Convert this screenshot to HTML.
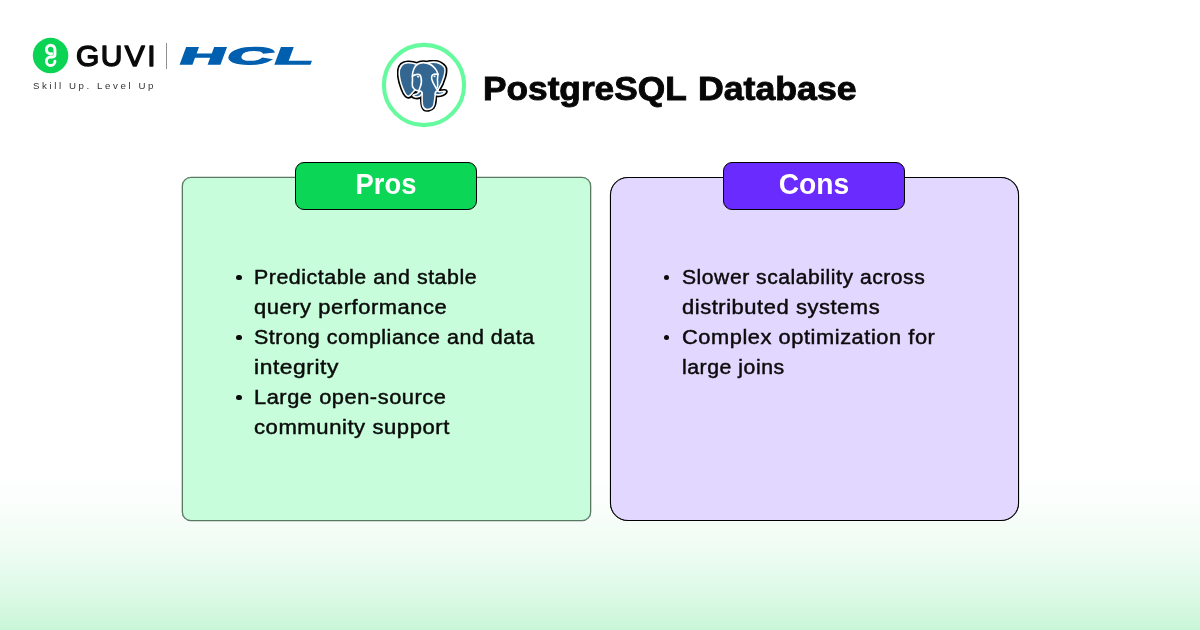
<!DOCTYPE html>
<html lang="en">
<head>
<meta charset="utf-8">
<title>PostgreSQL Database</title>
<style>
*{box-sizing:border-box;margin:0;padding:0}
html,body{width:1200px;height:630px;overflow:hidden}
body{position:relative;font-family:"Liberation Sans",sans-serif;color:#0b0b0b;
 background:linear-gradient(to bottom,#fff 0,#fff 445px,rgb(255,255,255) 460.4px,rgb(254,255,254) 475.8px,rgb(252,254,253) 491.2px,rgb(249,254,251) 506.7px,rgb(246,253,248) 522.1px,rgb(242,253,245) 537.5px,rgb(237,252,242) 552.9px,rgb(231,251,238) 568.3px,rgb(225,250,233) 583.8px,rgb(218,249,228) 599.2px,rgb(210,247,222) 614.6px,rgb(201,246,216) 630px)}
#stage{position:absolute;left:0;top:0;width:1200px;height:630px;will-change:transform}
.abs{position:absolute}
.card{position:absolute;top:177px;width:409px;height:344px;border:1px solid #222}
#pros{left:182px;background:#c7fddb;border-color:#587862;border-radius:9px;box-shadow:0 0 0 .3px #587862}
#cons{left:610px;background:#e2d7fe;border-color:#000;border-radius:18px;box-shadow:0 0 0 .1px #000}
.tag{position:absolute;top:162px;width:182px;height:48px;border:1px solid #000;border-radius:9px;
 color:#fff;font-weight:bold;font-size:28.8px;text-align:center;line-height:42.6px}
.tag span{display:inline-block;transform-origin:50% 50%}
#tpros{left:295px;background:#0bd655}
#tcons{left:723px;background:#6a2bff}
ul{position:absolute;list-style:none;font-size:20px;line-height:30px;top:262px;letter-spacing:0.5px;-webkit-text-stroke:0.45px #0b0b0b}
.l{display:block;height:30px;transform-origin:0 50%;white-space:nowrap}
ul li{position:relative;padding-left:0;white-space:nowrap}
ul li::before{content:"";position:absolute;left:-18.1px;top:12.6px;width:5.4px;height:5.4px;border-radius:50%;background:#0b0b0b}
#lpros{left:254.4px}
#lcons{left:682.2px}
h1{position:absolute;left:483.3px;top:65.6px;width:380px;height:46px;font-size:33px;line-height:46px;font-weight:bold;white-space:nowrap;color:#070707;-webkit-text-stroke:0.9px #070707}
h1 span{position:absolute;top:0;transform-origin:0 50%}
#hcl{position:absolute;left:176.9px;top:38.9px;height:34px;line-height:34px;font-weight:bold;font-size:23.55px;letter-spacing:0.65px;color:#005fae;
 -webkit-text-stroke:1.4px #005fae;text-shadow:0.385px 0 0 #005fae,-0.385px 0 0 #005fae;white-space:nowrap;
 transform-origin:0 26.5px;transform:skewX(-20.5deg) scaleX(2.68)}
</style>
</head>
<body>
<div id="stage">
<!-- logos -->
<svg class="abs" style="left:0;top:0" width="360" height="110" viewBox="0 0 360 110">
  <circle cx="50.55" cy="55.55" r="17.75" fill="#0bd455"/>
  <path d="M51.72 53.71A4.29 4.29 0 1 1 54.95 49.57L54.95 54.6Q54.95 56.95 52.65 56.95L50.66 56.95A4.29 4.29 0 1 0 54.95 61.24" fill="none" stroke="#fff" stroke-width="2.9" stroke-linecap="round" stroke-linejoin="round"/>
  <text x="76.05 100.87 124.75 147.23" y="65.7" font-family="'Liberation Sans',sans-serif" font-size="30" fill="#0a0a0a" stroke="#0a0a0a" stroke-width="1.4" stroke-linejoin="round" stroke-linecap="round">GUVI</text>
  <rect x="166" y="43" width="1" height="26" fill="#8f8f8f"/>
  <text x="33" y="89.1" font-family="'Liberation Sans',sans-serif" font-size="9.7" fill="#333" textLength="120.4" lengthAdjust="spacing">Skill Up. Level Up</text>
</svg>
<div id="hcl">HCL</div>
<!-- title icon -->
<svg class="abs" style="left:380px;top:41px" width="88" height="88" viewBox="0 0 88 88">
  <circle cx="44" cy="44" r="40.1" fill="#fff" stroke="#66fa9f" stroke-width="4.1"/>
</svg>
<svg class="abs" id="eleph" style="left:397.4px;top:60.2px" width="50.4" height="51.6" preserveAspectRatio="none" viewBox="0 0 432.071 445.383">
<g fill="none" stroke="#fff" stroke-width="13.5" stroke-linecap="round" stroke-linejoin="round" stroke-miterlimit="4">
<path fill="#000" stroke="#000" stroke-width="42" stroke-linecap="butt" stroke-linejoin="miter" d="M323.205,324.227c2.833-23.601,1.984-27.062,19.563-23.239l4.463,0.392c13.517,0.615,31.199-2.174,41.587-7c22.362-10.376,35.622-27.7,13.572-23.148c-50.297,10.376-53.755-6.655-53.755-6.655c53.111-78.803,75.313-178.836,56.149-203.322C352.514-5.534,262.036,26.049,260.522,26.869l-0.482,0.089c-9.938-2.062-21.06-3.294-33.554-3.496c-22.761-0.374-40.032,5.967-53.133,15.904c0,0-161.408-66.498-153.899,83.628c1.597,31.936,45.777,241.655,98.47,178.31c19.259-23.163,37.871-42.748,37.871-42.748c9.242,6.14,20.307,9.272,31.912,8.147l0.897-0.765c-0.281,2.876-0.157,5.689,0.359,9.019c-13.572,15.167-9.584,17.83-36.723,23.416c-27.457,5.659-11.326,15.734-0.797,18.367c12.768,3.193,42.305,7.716,62.268-20.224l-0.795,3.188c5.325,4.26,4.965,30.619,5.72,49.452c0.756,18.834,2.017,36.409,5.856,46.771c3.839,10.36,8.369,37.05,44.036,29.406c29.809-6.388,52.6-15.582,54.677-101.107"/>
<path fill="#336791" stroke="none" d="M402.395,271.23c-50.302,10.376-53.76-6.655-53.76-6.655c53.111-78.808,75.313-178.843,56.153-203.326c-52.27-66.785-142.752-35.2-144.262-34.38l-0.486,0.087c-9.938-2.063-21.06-3.292-33.56-3.496c-22.761-0.373-40.026,5.967-53.127,15.902c0,0-161.411-66.495-153.904,83.63c1.597,31.938,45.776,241.657,98.471,178.312c19.26-23.163,37.869-42.748,37.869-42.748c9.243,6.14,20.308,9.272,31.908,8.147l0.901-0.765c-0.28,2.876-0.152,5.689,0.361,9.019c-13.575,15.167-9.586,17.83-36.723,23.416c-27.459,5.659-11.328,15.734-0.796,18.367c12.768,3.193,42.307,7.716,62.266-20.224l-0.796,3.188c5.319,4.26,9.054,27.711,8.428,48.969c-0.626,21.259-1.044,35.854,3.147,47.254c4.191,11.4,8.368,37.05,44.042,29.406c29.809-6.388,45.256-22.942,47.405-50.555c1.525-19.631,4.976-16.729,5.194-34.28l2.768-8.309c3.192-26.611,0.507-35.196,18.872-31.203l4.463,0.392c13.517,0.615,31.208-2.174,41.591-7c22.358-10.376,35.618-27.7,13.573-23.148z"/>
<path d="M215.866,286.484c-1.385,49.516,0.348,99.377,5.193,111.495c4.848,12.118,15.223,35.688,50.9,28.045c29.806-6.39,40.651-18.756,45.357-46.051c3.466-20.082,10.148-75.854,11.005-87.281"/>
<path d="M173.104,38.256c0,0-161.521-66.016-154.012,84.109c1.597,31.938,45.779,241.664,98.473,178.316c19.256-23.166,36.671-41.335,36.671-41.335"/>
<path d="M260.349,26.207c-5.591,1.753,89.848-34.889,144.087,34.417c19.159,24.484-3.043,124.519-56.153,203.329"/>
<path stroke-linejoin="bevel" d="M348.282,263.953c0,0,3.461,17.036,53.764,6.653c22.04-4.552,8.776,12.774-13.577,23.155c-18.345,8.514-59.474,10.696-60.146-1.069c-1.729-30.355,21.647-21.133,19.96-28.739c-1.525-6.85-11.979-13.573-18.894-30.338c-6.037-14.633-82.796-126.849,21.287-110.183c3.813-0.789-27.146-99.002-124.553-100.599c-97.385-1.597-94.19,119.762-94.19,119.762"/>
<path d="M188.604,274.334c-13.577,15.166-9.584,17.829-36.723,23.417c-27.459,5.66-11.326,15.733-0.797,18.365c12.768,3.195,42.307,7.718,62.266-20.229c6.078-8.509-0.036-22.086-8.385-25.547c-4.034-1.671-9.428-3.765-16.361,3.994z"/>
<path d="M187.715,274.069c-1.368-8.917,2.93-19.528,7.536-31.942c6.922-18.626,22.893-37.255,10.117-96.339c-9.523-44.029-73.396-9.163-73.436-3.193c-0.039,5.968,2.889,30.26-1.067,58.548c-5.162,36.913,23.488,68.132,56.479,64.938"/>
<path fill="#fff" stroke-width="4.155" stroke-linecap="butt" stroke-linejoin="miter" d="M172.517,141.7c-0.288,2.039,3.733,7.48,8.976,8.207c5.234,0.73,9.714-3.522,9.998-5.559c0.284-2.039-3.732-4.285-8.977-5.015c-5.237-0.731-9.719,0.333-9.996,2.367z"/>
<path fill="#fff" stroke-width="2.0775" stroke-linecap="butt" stroke-linejoin="miter" d="M331.941,137.543c0.284,2.039-3.732,7.48-8.976,8.207c-5.238,0.73-9.718-3.522-10.005-5.559c-0.277-2.039,3.74-4.285,8.979-5.015c5.239-0.73,9.718,0.333,10.002,2.368z"/>
<path d="M350.676,123.432c0.863,15.994-3.445,26.888-3.988,43.914c-0.804,24.748,11.799,53.074-7.191,81.435"/>
</g>
</svg>
<h1><span style="left:0;transform:scaleX(1.068)">PostgreSQL</span> <span style="left:214.6px;transform:scaleX(1.081)">Database</span></h1>

<div class="card" id="pros"></div>
<div class="card" id="cons"></div>
<div class="tag" id="tpros"><span style="transform:scaleX(0.95)">Pros</span></div>
<div class="tag" id="tcons"><span style="transform:scaleX(0.98)">Cons</span></div>
<ul id="lpros">
  <li><span class="l" style="transform:scaleX(1.068)">Predictable and stable</span><span class="l" style="transform:scaleX(1.096)">query performance</span></li>
  <li><span class="l" style="transform:scaleX(1.071)">Strong compliance and data</span><span class="l" style="transform:scaleX(1.14)">integrity</span></li>
  <li><span class="l" style="transform:scaleX(1.091)">Large open-source</span><span class="l" style="transform:scaleX(1.104)">community support</span></li>
</ul>
<ul id="lcons">
  <li><span class="l" style="transform:scaleX(1.056)">Slower scalability across</span><span class="l" style="transform:scaleX(1.097)">distributed systems</span></li>
  <li><span class="l" style="transform:scaleX(1.092)">Complex optimization for</span><span class="l" style="transform:scaleX(1.062)">large joins</span></li>
</ul>
</div>
</body>
</html>
